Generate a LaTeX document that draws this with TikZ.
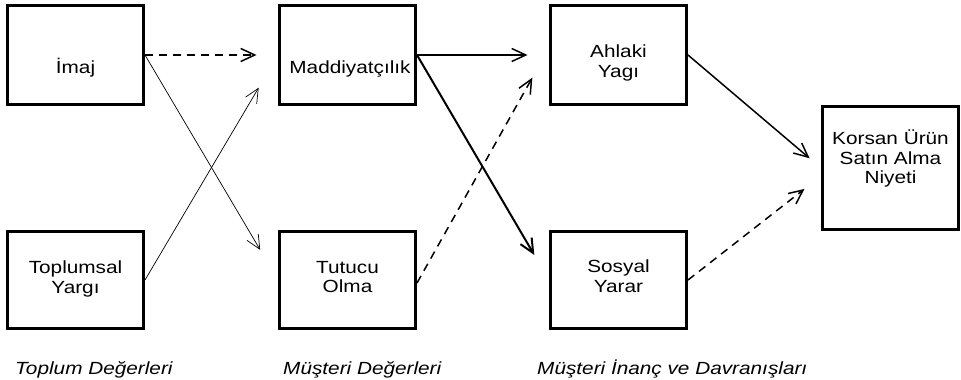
\documentclass[tikz,border=0pt]{standalone}
\usepackage{fontspec}
\setmainfont[FakeStretch=1.18]{Liberation Sans}
\usetikzlibrary{arrows.meta}

\begin{document}
\begin{tikzpicture}[x=1pt, y=-1pt,
	box/.style={draw, line width=3pt, minimum width=136pt, minimum height=97pt, inner sep=0pt},
	txt/.style={align=center, inner sep=0pt, font=\fontsize{17.6}{19.5}\selectfont},
	grouplbl/.style={anchor=base west, inner sep=0pt, font=\fontsize{17.6}{19.5}\selectfont\itshape},
	link/.style={-{Straight Barb[length=14pt, width=13pt]}, line width=1.5pt},
	thinlink/.style={-{Straight Barb[length=14pt, width=13pt]}, line width=0.7pt},
	dashlink/.style={link, dash pattern=on 8pt off 6pt}]

\useasboundingbox (0,0) rectangle (961,380);

\node[box, minimum height=98.5pt] (imaj) at (75.5,55) {};
\node[box, minimum height=98.5pt] (madd) at (347.5,55) {};
\node[box, minimum height=98.5pt] (ahlaki) at (618.5,55) {};
\node[box] (toplum) at (75.5,280) {};
\node[box] (tutucu) at (347.5,280) {};
\node[box] (sosyal) at (618.5,280) {};
\node[box, minimum height=122.5pt] (korsan) at (890.5,168) {};

\node[txt] (imajtxt) at (75.5,68) {İmaj};
\node[txt] (maddtxt) at (350,68.5) {Maddiyatçılık};
\node[txt] (ahlakitxt) at (618.5,63) {Ahlaki\\Yagı};
\node[txt] (toplumtxt) at (75.5,279) {Toplumsal\\Yargı};
\node[txt] (tutucutxt) at (347.5,277) {Tutucu\\Olma};
\node[txt] (sosyaltxt) at (618.5,276) {Sosyal\\Yarar};
\node[txt] (korsantxt) at (890.5,158.5) {Korsan Ürün\\Satın Alma\\Niyeti};

\node[grouplbl] (toplumlbl) at (15,374) {Toplum Değerleri};
\node[grouplbl] (musterilbl) at (283,374) {Müşteri Değerleri};
\node[grouplbl] (inanclbl) at (537,374) {Müşteri İnanç ve Davranışları};

\draw[dashlink, shorten >=21.5pt] (imaj.east) -- (madd.west);
\draw[thinlink, shorten >=35pt] (imaj.east) -- (tutucu.west);
\draw[thinlink, shorten >=38pt] (toplum.east) -- (madd.west);
\draw[link, shorten >=21.5pt] (madd.east) -- (ahlaki.west);
\draw[link, line width=2pt, shorten >=29pt] (madd.east) -- (sosyal.west);
\draw[dashlink, shorten >=34pt] ([yshift=-3pt]tutucu.east) -- ([yshift=7pt]ahlaki.west);
\draw[link, shorten >=15pt] (ahlaki.east) -- (korsan.west);
\draw[dashlink, shorten >=21pt] (sosyal.east) -- ([yshift=-8pt]korsan.west);

\end{tikzpicture}
\end{document}
